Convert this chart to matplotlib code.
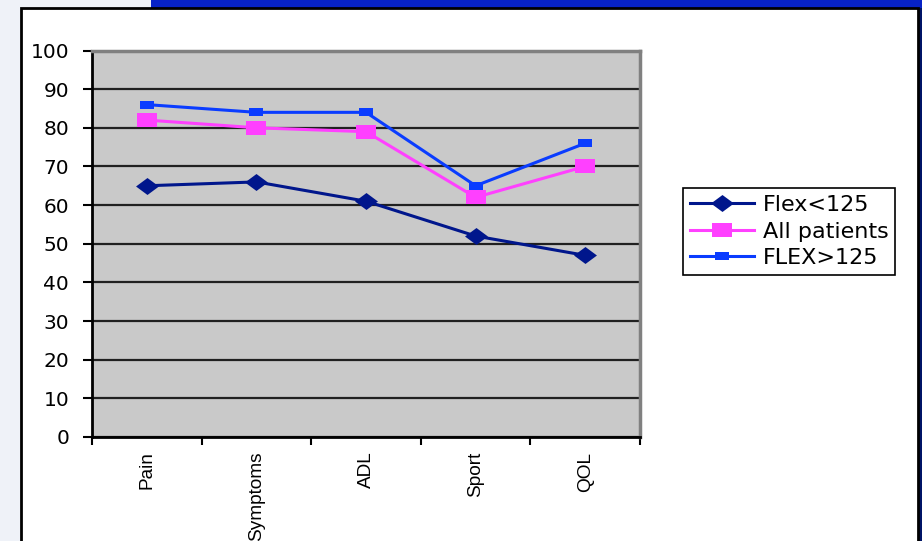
import matplotlib
matplotlib.use("Agg")
import matplotlib.pyplot as plt
from matplotlib.patches import Rectangle

# Scores per subscale
categories = ["Pain", "Symptoms", "ADL", "Sport", "QOL"]
flex_low = [65, 66, 61, 52, 47]
all_patients = [82, 80, 79, 62, 70]
flex_high = [86, 84, 84, 65, 76]
y_ticks = [0, 10, 20, 30, 40, 50, 60, 70, 80, 90, 100]

W, H = 922, 541
fig = plt.figure(figsize=(W / 100, H / 100), dpi=100, facecolor="#eff2f8")


def fx(px):
    return px / W


def fy(py):
    return 1 - py / H


# slide framing: blue header bar, white panel with dark border
fig.patches.append(Rectangle((fx(151), fy(7.5)), fx(922 - 151), 7.5 / H,
                             transform=fig.transFigure, facecolor="#0722c6",
                             edgecolor="none", zorder=-2))
fig.patches.append(Rectangle((fx(918), 0), fx(4), fy(7.5),
                             transform=fig.transFigure, facecolor="#001466",
                             edgecolor="none", zorder=-2))
fig.patches.append(Rectangle((fx(20.5), fy(560)), fx(918 - 20.5), (560 - 8) / H,
                             transform=fig.transFigure, facecolor="white",
                             edgecolor="black", linewidth=2, zorder=-1))

ax = fig.add_axes([fx(92), fy(437), fx(640 - 92), (437 - 50.5) / H])
ax.set_zorder(2)
ax.set_facecolor("#c9c9c9")
ax.set_axisbelow(True)

x = list(range(len(categories)))

diamond = [(-1, 0), (0, 0.74), (1, 0), (0, -0.74), (-1, 0)]
rect = [(-1, -0.66), (1, -0.66), (1, 0.66), (-1, 0.66), (-1, -0.66)]

ax.plot(x, flex_low, color="#00168c", lw=2.2, marker=diamond, ms=16.5,
        markeredgewidth=0, label="Flex<125", zorder=3)
ax.plot(x, all_patients, color="#ff40ff", lw=2.2, marker=rect, ms=15,
        markeredgewidth=0, label="All patients", zorder=3)
ax.plot(x, flex_high, color="#0a3cff", lw=2.2, marker=rect, ms=9.5,
        markeredgewidth=0, label="FLEX>125", zorder=4)

ax.set_xlim(-0.5, len(categories) - 0.5)
ax.set_ylim(0, 100)

ax.set_yticks(y_ticks)
ax.set_yticklabels([str(v) for v in y_ticks], family="DejaVu Sans", fontsize=14.5)
ax.tick_params(axis="y", direction="out", length=6.5, width=1.5, pad=10,
               color="black")
ax.yaxis.grid(True, color="#202020", linewidth=1.6)

# category separators as major ticks, names centred as minor ticks
ax.set_xticks([i - 0.5 for i in range(len(categories) + 1)])
ax.set_xticklabels([])
ax.set_xticks(x, minor=True)
ax.set_xticklabels(categories, minor=True, rotation=90, va="top", ha="center",
                   family="Liberation Sans", fontsize=13.7)
ax.tick_params(axis="x", which="major", direction="out", length=6, width=1.5)
ax.tick_params(axis="x", which="minor", length=0, pad=10.5)

for side in ("left", "bottom"):
    ax.spines[side].set_color("black")
    ax.spines[side].set_linewidth(2)
for side in ("top", "right"):
    ax.spines[side].set_color("#808080")
    ax.spines[side].set_linewidth(2.5)

leg = ax.legend(loc="center left", bbox_to_anchor=(fx(683), fy(231.5)),
                bbox_transform=fig.transFigure, frameon=True, fancybox=False,
                framealpha=1, edgecolor="black", handlelength=2.9,
                handletextpad=0.4, labelspacing=0.3, borderpad=0.3,
                borderaxespad=0, prop={"family": "DejaVu Sans", "size": 16})
leg.get_frame().set_linewidth(1.2)

fig.savefig("out.png", dpi=100, facecolor=fig.get_facecolor())
